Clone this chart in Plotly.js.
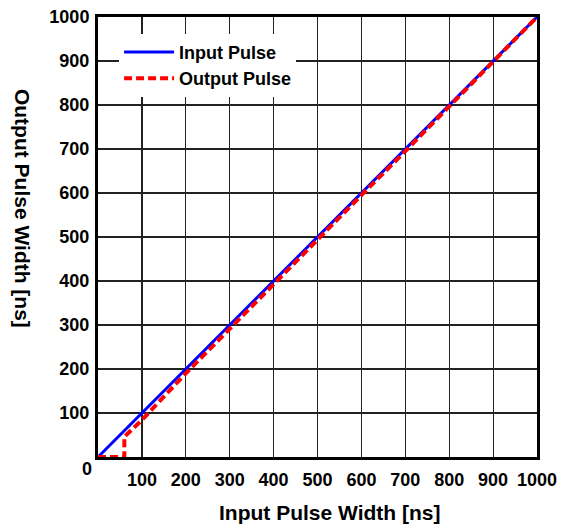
<!DOCTYPE html>
<html>
<head>
<meta charset="utf-8">
<script src="https://cdn.plot.ly/plotly-3.0.1.min.js"></script>
<style>html,body{margin:0;padding:0;background:#fff;}#chart{width:565px;height:527px;}</style>
</head>
<body>
<div id="chart"></div>
<script>
// Data
const inputX = [0, 1000];
const inputY = [0, 1000];
const outputX = [0, 60, 60, 100, 200, 300, 400, 500, 600, 700, 800, 900, 1000];
const outputY = [0, 0, 46, 84, 190, 292, 393, 495, 595, 695, 796, 897, 1000];
const tickVals = [0, 100, 200, 300, 400, 500, 600, 700, 800, 900, 1000];
const tickText = ['', '100', '200', '300', '400', '500', '600', '700', '800', '900', '1000'];
const seriesNames = ['Input Pulse', 'Output Pulse'];
const xTitle = 'Input Pulse Width [ns]';
const yTitle = 'Output Pulse Width [ns]';

const F = 'Liberation Sans, Arial, Helvetica, sans-serif';
const traces = [
  {x: inputX, y: inputY, name: seriesNames[0], mode: 'lines',
   line: {color: '#0000ff', width: 3}},
  {x: outputX, y: outputY, name: seriesNames[1], mode: 'lines',
   line: {color: '#ff0000', width: 4, dash: '8px,4px'}}
];
const axisCommon = {
  range: [0, 1000], tickmode: 'array', tickvals: tickVals, ticktext: tickText,
  showgrid: true, gridcolor: '#222', gridwidth: 1.2,
  showline: true, linecolor: '#000', linewidth: 3, mirror: true,
  zeroline: false, ticks: '', fixedrange: true,
  tickfont: {family: F, size: 18, color: '#000', weight: 'bold'}
};
const layout = {
  width: 565, height: 527,
  margin: {l: 98, r: 28, t: 17, b: 70, pad: 0},
  paper_bgcolor: '#fff', plot_bgcolor: '#fff',
  showlegend: true,
  legend: {x: 0.048, y: 0.962, xanchor: 'left', yanchor: 'top',
    bgcolor: '#fff', borderwidth: 0, itemwidth: 50,
    font: {family: F, size: 18, color: '#000', weight: 'bold'}},
  xaxis: Object.assign({}, axisCommon, {ticklabelstandoff: 4}),
  yaxis: Object.assign({}, axisCommon, {ticklabelstandoff: 2}),
  annotations: [
    {text: xTitle, xref: 'paper', yref: 'paper', x: 0.528, y: -0.127,
     xanchor: 'center', yanchor: 'middle', showarrow: false,
     font: {family: F, size: 21, color: '#000', weight: 'bold'}},
    {text: yTitle, xref: 'paper', yref: 'paper', x: -0.173, y: 0.566,
     xanchor: 'center', yanchor: 'middle', showarrow: false, textangle: 90,
     font: {family: F, size: 21, color: '#000', weight: 'bold'}},
    {text: '0', xref: 'paper', yref: 'paper', x: -0.025, y: -0.027,
     xanchor: 'center', yanchor: 'middle', showarrow: false,
     font: {family: F, size: 18, color: '#000', weight: 'bold'}}
  ]
};
Plotly.newPlot('chart', traces, layout, {displayModeBar: false, staticPlot: true});
</script>
</body>
</html>
